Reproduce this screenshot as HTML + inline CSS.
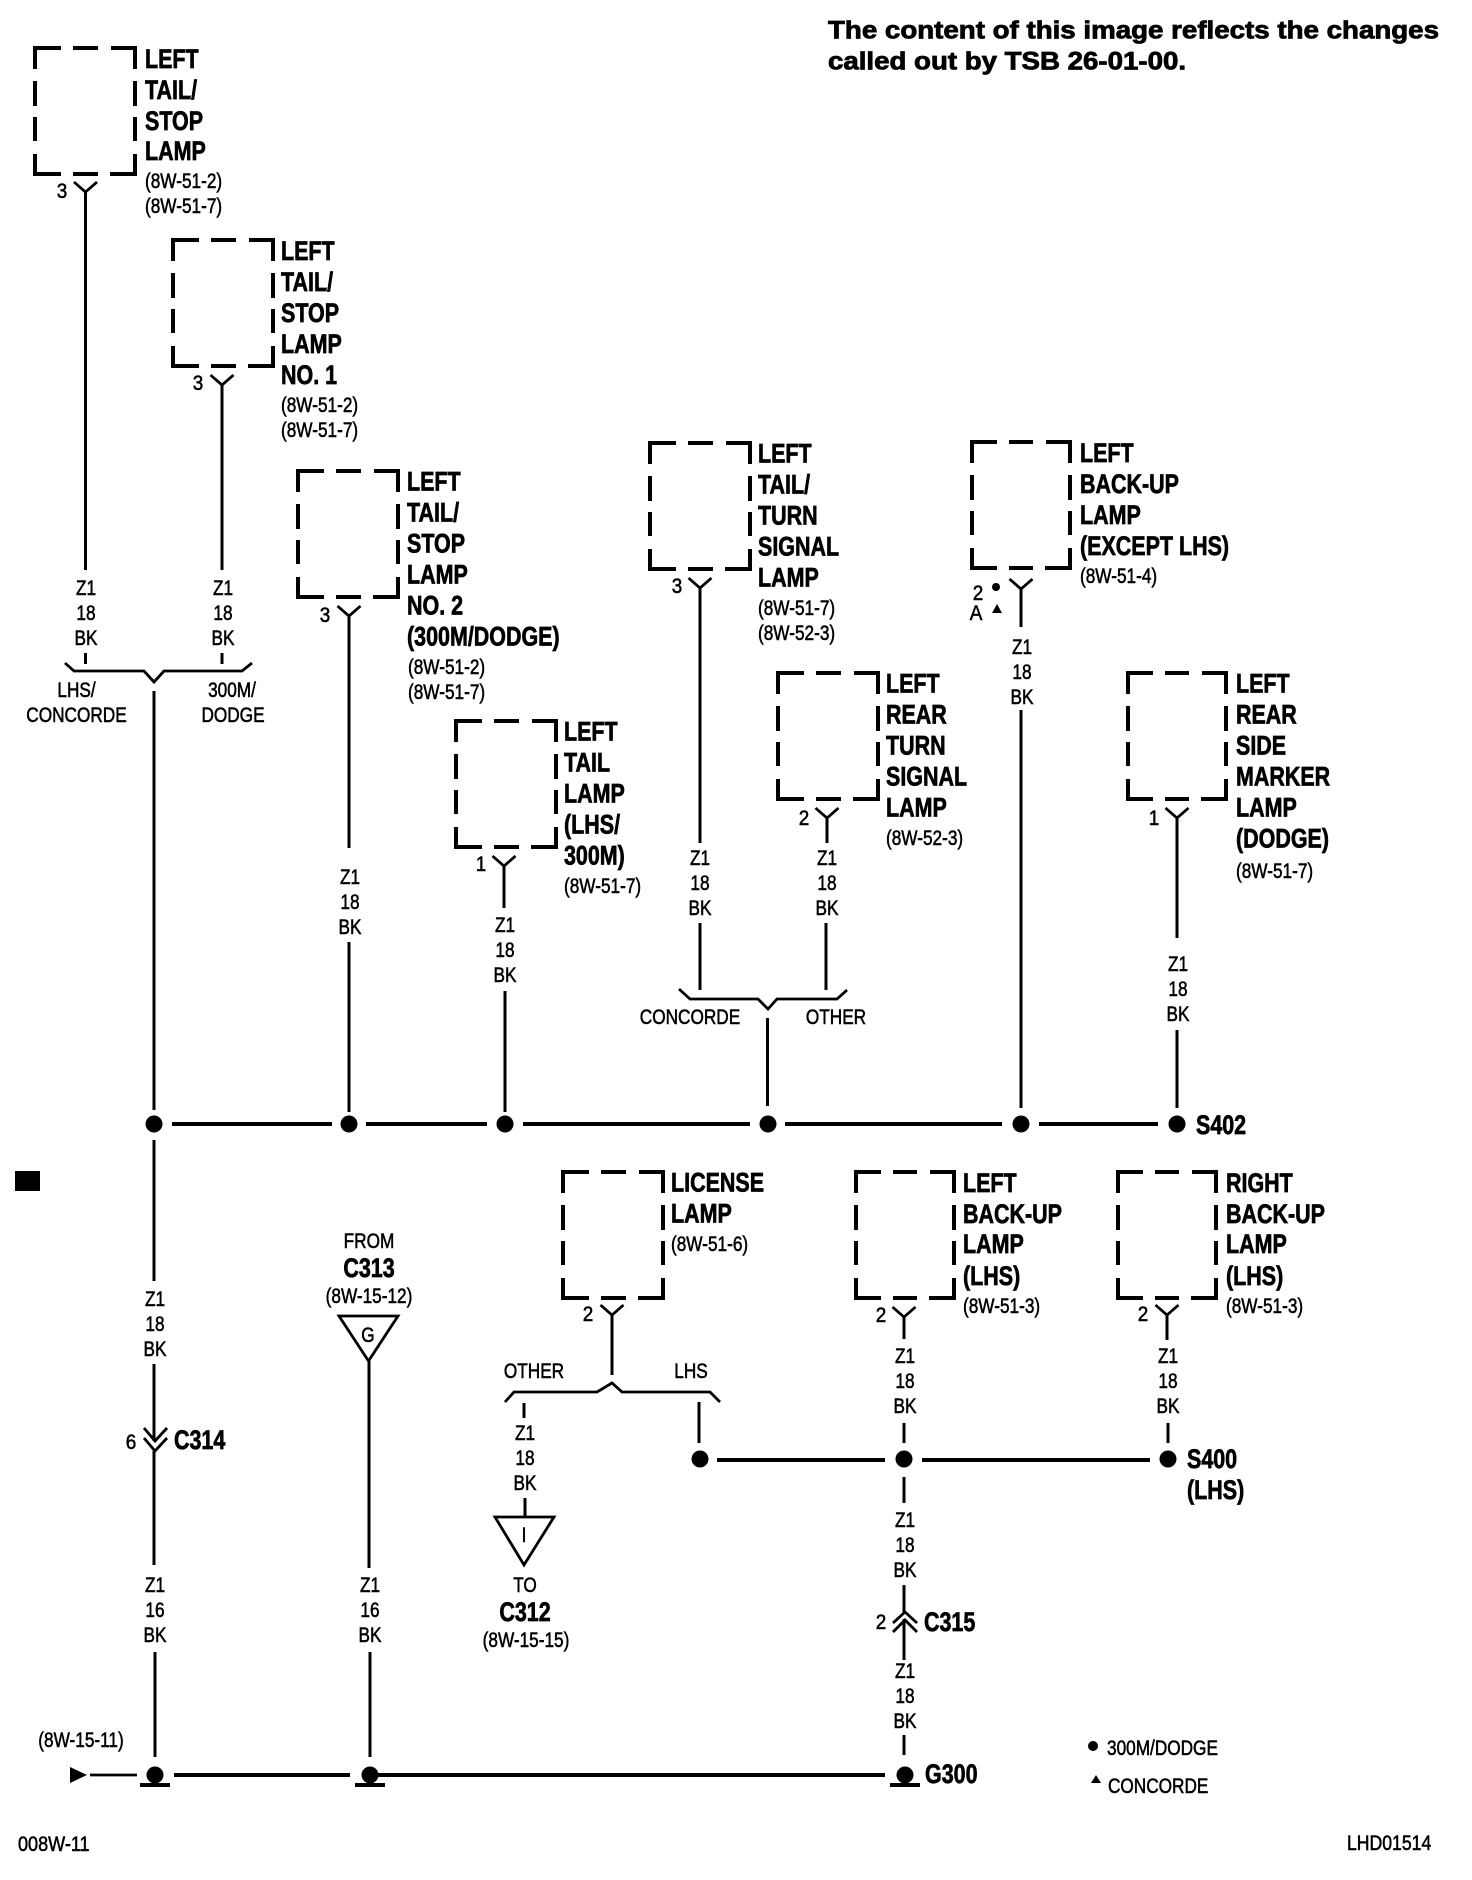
<!DOCTYPE html>
<html><head><meta charset="utf-8"><title>Wiring diagram</title>
<style>
html,body{margin:0;padding:0;background:#fff}
svg{display:block}
text{font-family:"Liberation Sans",Arial,sans-serif;fill:#000;stroke:#000}
.b text,text.b{font-size:26.5px;font-weight:700;stroke-width:.7}
.r text,text.r{font-size:21px;stroke-width:.55}
.m text{text-anchor:middle}
text.t{font-size:25px;font-weight:700;stroke-width:.8}
.w{stroke:#000;stroke-width:3;fill:none}
.h{stroke:#000;stroke-width:4;fill:none}
.y{stroke:#000;stroke-width:2.8;fill:none}
.c{stroke:#000;stroke-width:4;fill:none}
</style></head><body>
<svg xmlns="http://www.w3.org/2000/svg" width="1472" height="1880" viewBox="0 0 1472 1880">
<rect width="1472" height="1880" fill="#fff"/>
<defs>
<path id="bx" class="c" d="M0 21V0H26M38 0H63M76 0H100V21M0 33V58M0 69V93M0 106V126H26M38 126H63M75 126H100V106M100 93V69M100 58V33"/>
<path id="bn" class="c" d="M0 21V0H25M37 0H61M74 0H98V21M0 33V58M0 69V93M0 106V126H25M37 126H61M73 126H98V106M98 93V69M98 58V33"/>
<path id="yy" class="y" d="M-11.5 -10L0 0L11.5 -10"/>
</defs>

<text class="t" x="828" y="38.5" textLength="611" lengthAdjust="spacingAndGlyphs">The content of this image reflects the changes</text>
<text class="t" x="828" y="69.5" textLength="358" lengthAdjust="spacingAndGlyphs">called out by TSB 26-01-00.</text>

<use href="#bx" x="35" y="48"/>
<use href="#bx" x="173" y="240"/>
<use href="#bx" x="298" y="471"/>
<use href="#bx" x="456" y="721"/>
<use href="#bx" x="650" y="443"/>
<use href="#bn" x="972" y="442"/>
<use href="#bx" x="778" y="673"/>
<use href="#bn" x="1128" y="673"/>
<use href="#bx" x="563" y="1172"/>
<use href="#bn" x="856" y="1172"/>
<use href="#bn" x="1118" y="1172"/>

<use href="#yy" x="85.5" y="192"/>
<use href="#yy" x="222" y="385"/>
<use href="#yy" x="349" y="616"/>
<use href="#yy" x="504" y="866"/>
<use href="#yy" x="700" y="588"/>
<use href="#yy" x="1021" y="589"/>
<use href="#yy" x="827" y="818"/>
<use href="#yy" x="1177" y="818"/>
<use href="#yy" x="612" y="1315"/>
<use href="#yy" x="904" y="1317"/>
<use href="#yy" x="1167" y="1315"/>

<path class="w" d="M85.5 192V570M85.5 653V664
M222 385V570M222 653V664
M154 691V1110M154 1140V1281M154 1364V1441M154 1451V1565M155 1652V1757
M349 616V848M349 942V1112
M504 866V908M505 991V1112
M700 588V843M700 923V990
M827 818V843M826 923V990
M767.5 1018V1106
M1021 589V627M1021 710V1108
M1177 818V938M1177 1030V1108
M612 1315V1375
M524 1403V1418M525 1498V1516
M699 1402V1443
M904 1317V1339M904 1423V1443M904 1477V1503M904 1585V1612M904 1619V1660M904 1735V1755
M1167 1315V1340M1168 1423V1443
M369 1361V1568M370 1652V1757"/>

<path class="y" d="M65 663L74 671H144L154 682L164 671H242L252 663"/>
<path class="y" d="M679 989L690 999H758L768 1009L777 999H837L847 990"/>
<path class="y" d="M505 1402L514 1392H597L612 1383L622 1392H710L720 1402"/>

<path class="h" d="M172 1124H332M366 1124H487M523 1124H750M785 1124H1002M1039 1124H1158"/>
<path class="h" d="M717 1460H885M922 1460H1150"/>
<path class="h" d="M174 1775H350M378 1775H885"/>
<g fill="#000">
<circle cx="154" cy="1124" r="8.5"/><circle cx="349" cy="1124" r="8.5"/><circle cx="505" cy="1124" r="8.5"/><circle cx="768" cy="1124" r="8.5"/><circle cx="1021" cy="1124" r="8.5"/><circle cx="1177" cy="1124" r="8.5"/>
<circle cx="700" cy="1459" r="8.5"/><circle cx="904" cy="1459" r="8.5"/><circle cx="1168" cy="1459" r="8.5"/>
<circle cx="155" cy="1775" r="8.5"/><circle cx="370" cy="1775" r="8.5"/><circle cx="905" cy="1775" r="8.5"/>
<rect x="15" y="1171" width="25" height="20"/>
<path d="M70 1767L87 1775L70 1783Z"/>
<circle cx="996" cy="587" r="4"/><path d="M997 604L1002 613H992Z"/>
<circle cx="1093" cy="1746" r="5"/><path d="M1096 1775L1101 1783H1091Z"/>
</g>
<path class="h" d="M140 1785H170M355 1785H385M890 1785H920"/>
<path class="y" d="M90 1775H137"/>
<path class="y" d="M144 1428L155 1441L167 1428M144 1438L155 1451L167 1438"/>
<path class="y" d="M893 1623L905 1612L917 1623M893 1632L905 1620L917 1632"/>
<path class="y" d="M339 1316H398L368.5 1361Z"/>
<path class="y" d="M495 1517H554L524 1565Z"/>

<g class="b" transform="translate(145,68) scale(.81,1)"><text>LEFT</text><text y="31">TAIL/</text><text y="62">STOP</text><text y="92">LAMP</text></g>
<g class="r" transform="translate(145,188) scale(.82,1)"><text>(8W-51-2)</text><text y="25">(8W-51-7)</text></g>

<g class="b" transform="translate(281,260) scale(.81,1)"><text>LEFT</text><text y="31">TAIL/</text><text y="62">STOP</text><text y="93">LAMP</text><text y="124">NO. 1</text></g>
<g class="r" transform="translate(281,412) scale(.82,1)"><text>(8W-51-2)</text><text y="25">(8W-51-7)</text></g>

<g class="b" transform="translate(407,490.5) scale(.81,1)"><text>LEFT</text><text y="31">TAIL/</text><text y="62">STOP</text><text y="93">LAMP</text><text y="124">NO. 2</text><text y="155">(300M/DODGE)</text></g>
<g class="r" transform="translate(408,674) scale(.82,1)"><text>(8W-51-2)</text><text y="25">(8W-51-7)</text></g>

<g class="b" transform="translate(564,740.5) scale(.81,1)"><text>LEFT</text><text y="31">TAIL</text><text y="62">LAMP</text><text y="93">(LHS/</text><text y="124">300M)</text></g>
<g class="r" transform="translate(564,893) scale(.82,1)"><text>(8W-51-7)</text></g>

<g class="b" transform="translate(758,462.5) scale(.81,1)"><text>LEFT</text><text y="31">TAIL/</text><text y="62">TURN</text><text y="93">SIGNAL</text><text y="124">LAMP</text></g>
<g class="r" transform="translate(758,615) scale(.82,1)"><text>(8W-51-7)</text><text y="25">(8W-52-3)</text></g>

<g class="b" transform="translate(1080,462) scale(.81,1)"><text>LEFT</text><text y="31">BACK-UP</text><text y="62">LAMP</text><text y="93">(EXCEPT LHS)</text></g>
<g class="r" transform="translate(1080,583) scale(.82,1)"><text>(8W-51-4)</text></g>

<g class="b" transform="translate(886,692.5) scale(.81,1)"><text>LEFT</text><text y="31">REAR</text><text y="62">TURN</text><text y="93">SIGNAL</text><text y="124">LAMP</text></g>
<g class="r" transform="translate(886,845) scale(.82,1)"><text>(8W-52-3)</text></g>

<g class="b" transform="translate(1236,692.5) scale(.81,1)"><text>LEFT</text><text y="31">REAR</text><text y="62">SIDE</text><text y="93">MARKER</text><text y="124">LAMP</text><text y="155">(DODGE)</text></g>
<g class="r" transform="translate(1236,878) scale(.82,1)"><text>(8W-51-7)</text></g>

<g class="b" transform="translate(671,1191.5) scale(.81,1)"><text>LICENSE</text><text y="31">LAMP</text></g>
<g class="r" transform="translate(671,1251) scale(.82,1)"><text>(8W-51-6)</text></g>

<g class="b" transform="translate(963,1192) scale(.81,1)"><text>LEFT</text><text y="31">BACK-UP</text><text y="61">LAMP</text><text y="93">(LHS)</text></g>
<g class="r" transform="translate(963,1313) scale(.82,1)"><text>(8W-51-3)</text></g>

<g class="b" transform="translate(1226,1192) scale(.81,1)"><text>RIGHT</text><text y="31">BACK-UP</text><text y="61">LAMP</text><text y="93">(LHS)</text></g>
<g class="r" transform="translate(1226,1313) scale(.82,1)"><text>(8W-51-3)</text></g>

<g class="r m" transform="translate(86,595) scale(.82,1)"><text>Z1</text><text y="25">18</text><text y="50">BK</text></g>
<g class="r m" transform="translate(223,595) scale(.82,1)"><text>Z1</text><text y="25">18</text><text y="50">BK</text></g>
<g class="r m" transform="translate(350,884) scale(.82,1)"><text>Z1</text><text y="25">18</text><text y="50">BK</text></g>
<g class="r m" transform="translate(505,932) scale(.82,1)"><text>Z1</text><text y="25">18</text><text y="50">BK</text></g>
<g class="r m" transform="translate(700,865) scale(.82,1)"><text>Z1</text><text y="25">18</text><text y="50">BK</text></g>
<g class="r m" transform="translate(827,865) scale(.82,1)"><text>Z1</text><text y="25">18</text><text y="50">BK</text></g>
<g class="r m" transform="translate(1022,654) scale(.82,1)"><text>Z1</text><text y="25">18</text><text y="50">BK</text></g>
<g class="r m" transform="translate(1178,971) scale(.82,1)"><text>Z1</text><text y="25">18</text><text y="50">BK</text></g>
<g class="r m" transform="translate(155,1306) scale(.82,1)"><text>Z1</text><text y="25">18</text><text y="50">BK</text></g>
<g class="r m" transform="translate(155,1592) scale(.82,1)"><text>Z1</text><text y="25">16</text><text y="50">BK</text></g>
<g class="r m" transform="translate(370,1592) scale(.82,1)"><text>Z1</text><text y="25">16</text><text y="50">BK</text></g>
<g class="r m" transform="translate(525,1440) scale(.82,1)"><text>Z1</text><text y="25">18</text><text y="50">BK</text></g>
<g class="r m" transform="translate(905,1363) scale(.82,1)"><text>Z1</text><text y="25">18</text><text y="50">BK</text></g>
<g class="r m" transform="translate(1168,1363) scale(.82,1)"><text>Z1</text><text y="25">18</text><text y="50">BK</text></g>
<g class="r m" transform="translate(905,1527) scale(.82,1)"><text>Z1</text><text y="25">18</text><text y="50">BK</text></g>
<g class="r m" transform="translate(905,1678) scale(.82,1)"><text>Z1</text><text y="25">18</text><text y="50">BK</text></g>

<g class="r m">
<text transform="translate(62,198) scale(.9,1)">3</text>
<text transform="translate(198,390) scale(.9,1)">3</text>
<text transform="translate(325,622) scale(.9,1)">3</text>
<text transform="translate(481,871) scale(.9,1)">1</text>
<text transform="translate(677,593) scale(.9,1)">3</text>
<text transform="translate(804,825) scale(.9,1)">2</text>
<text transform="translate(1154,825) scale(.9,1)">1</text>
<text transform="translate(978,600) scale(.9,1)">2</text>
<text transform="translate(976,620) scale(.9,1)">A</text>
<text transform="translate(588,1321) scale(.9,1)">2</text>
<text transform="translate(881,1322) scale(.9,1)">2</text>
<text transform="translate(1143,1321) scale(.9,1)">2</text>
<text transform="translate(131,1449) scale(.9,1)">6</text>
<text transform="translate(881,1629) scale(.9,1)">2</text>
<text transform="translate(76.5,697) scale(.82,1)">LHS/</text>
<text transform="translate(76.5,722) scale(.82,1)">CONCORDE</text>
<text transform="translate(232,697) scale(.82,1)">300M/</text>
<text transform="translate(233,722) scale(.82,1)">DODGE</text>
<text transform="translate(690,1024) scale(.82,1)">CONCORDE</text>
<text transform="translate(836,1024) scale(.82,1)">OTHER</text>
<text transform="translate(534,1378) scale(.82,1)">OTHER</text>
<text transform="translate(691,1378) scale(.82,1)">LHS</text>
<text transform="translate(369,1248) scale(.82,1)">FROM</text>
<text transform="translate(369,1303) scale(.82,1)">(8W-15-12)</text>
<text transform="translate(368,1342) scale(.82,1)">G</text>
<text transform="translate(524,1542) scale(.82,1)">I</text>
<text transform="translate(525,1592) scale(.82,1)">TO</text>
<text transform="translate(526,1647) scale(.82,1)">(8W-15-15)</text>
<text transform="translate(81,1747) scale(.82,1)">(8W-15-11)</text>
</g>
<g class="r">
<text transform="translate(1107,1755) scale(.82,1)">300M/DODGE</text>
<text transform="translate(1108,1793) scale(.82,1)">CONCORDE</text>
<text transform="translate(1347,1850) scale(.84,1)">LHD01514</text>
<text transform="translate(18,1851) scale(.86,1)">008W-11</text>
</g>
<g class="b">
<text transform="translate(1196,1134) scale(.81,1)">S402</text>
<text transform="translate(1187,1468) scale(.81,1)">S400</text>
<text transform="translate(1187,1499) scale(.81,1)">(LHS)</text>
<text transform="translate(174,1449) scale(.81,1)">C314</text>
<text transform="translate(924,1631) scale(.81,1)">C315</text>
<text transform="translate(925,1783) scale(.81,1)">G300</text>
<text text-anchor="middle" transform="translate(369,1277) scale(.81,1)">C313</text>
<text text-anchor="middle" transform="translate(525,1621) scale(.81,1)">C312</text>
</g>
</svg>
</body></html>
